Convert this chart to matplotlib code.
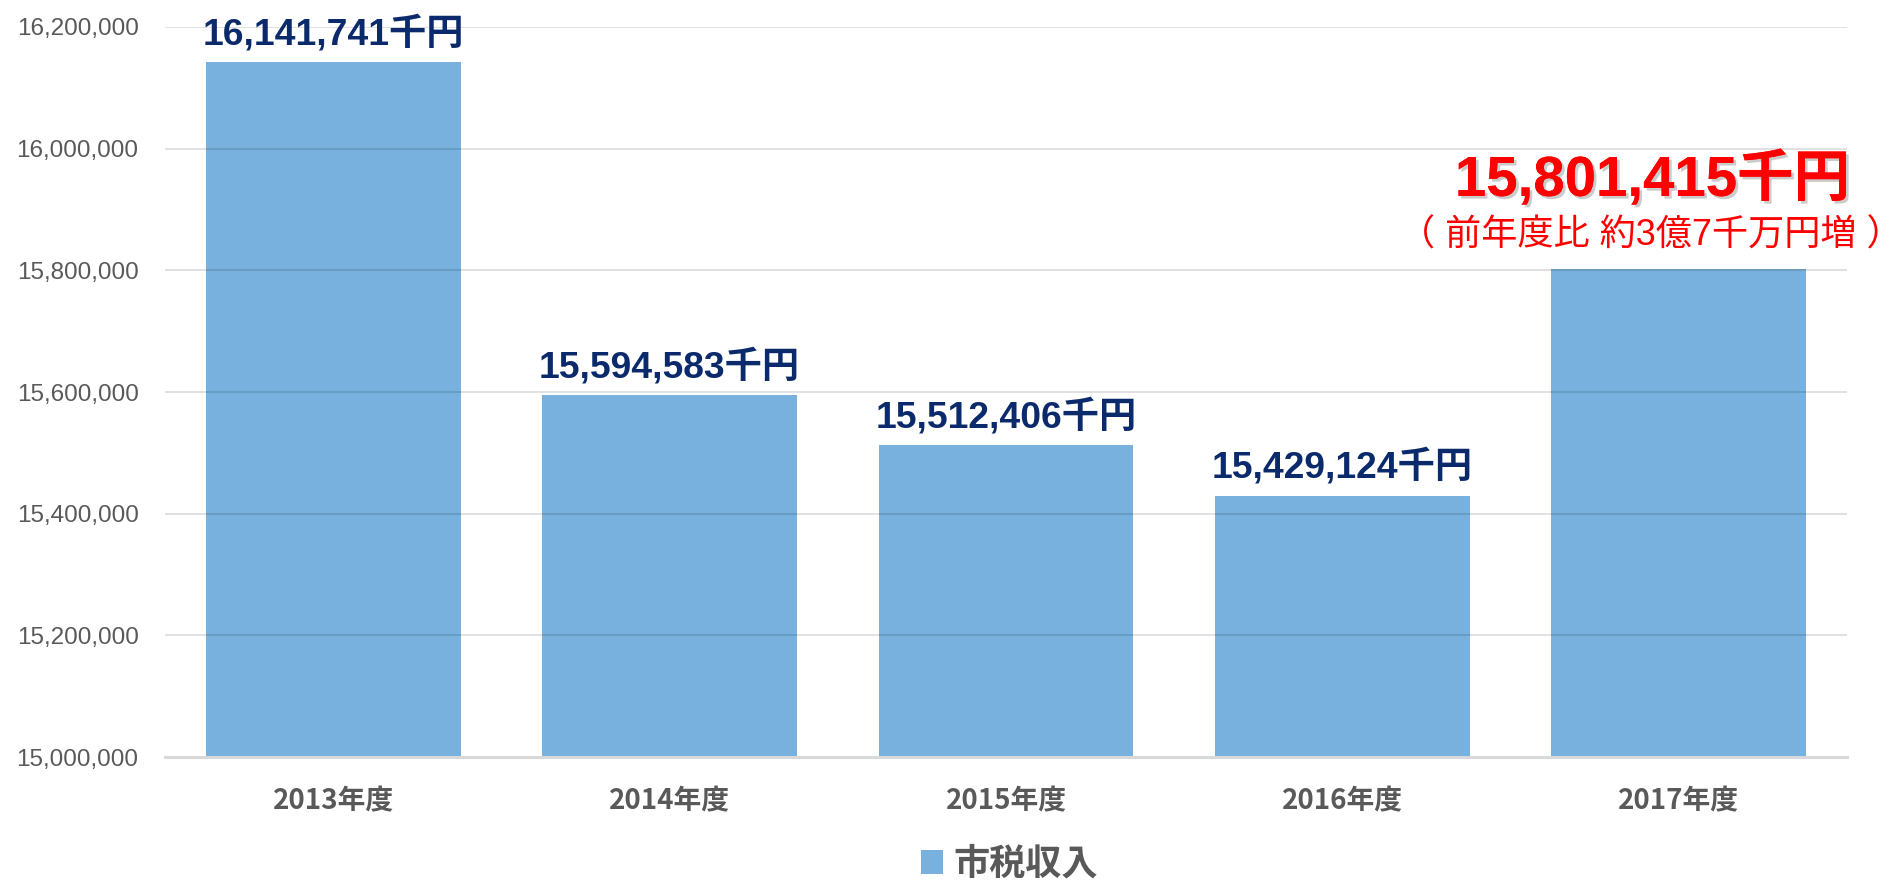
import matplotlib.pyplot as plt
import matplotlib.patheffects as pe
from matplotlib.ticker import FuncFormatter
from matplotlib.patches import Patch

years = ['2013年度', '2014年度', '2015年度', '2016年度', '2017年度']
revenue = [16141741, 15594583, 15512406, 15429124, 15801415]
series_name = '市税収入'
note_2017 = '（ 前年度比 約3億7千万円増 ）'

bar_color = '#78B1DE'
navy = '#0B2A6B'
gray = '#595959'
latin_cjk = ['Liberation Sans', 'Noto Sans CJK JP']

plt.rcParams['font.family'] = latin_cjk

fig = plt.figure(figsize=(19.01, 8.82), dpi=100)
ax = fig.add_axes([0.0868, 0.1417, 0.8848, 0.8277])

x = range(len(years))
ax.bar(x, revenue, width=0.757, color=bar_color, zorder=2)

ax.set_xlim(-0.5, len(years) - 0.5)
ax.set_ylim(15000000, 16200000)
ax.set_yticks(range(15000000, 16200001, 200000))
ax.yaxis.set_major_formatter(FuncFormatter(lambda v, p: f'{int(v):,}'))
ax.grid(axis='y', color='black', alpha=0.13, linewidth=1.3, zorder=3)
ax.set_axisbelow(False)

for s in ['top', 'right', 'left']:
    ax.spines[s].set_visible(False)
ax.spines['bottom'].set_color('#D9D9D9')
ax.spines['bottom'].set_linewidth(2.2)
ax.spines['bottom'].set_zorder(4)

ax.tick_params(axis='y', length=0, pad=19, labelsize=17.5, labelcolor=gray)
ax.tick_params(axis='x', length=0, pad=22)
ax.set_xticks(list(x))
ax.set_xticklabels(years, fontsize=20, fontweight='bold', color=gray,
                   family=['Noto Sans CJK JP'])

# value labels
for i, v in enumerate(revenue[:-1]):
    ax.annotate(f'{v:,}千円', xy=(i, v), xytext=(0, 13), textcoords='offset points',
                ha='center', va='baseline', fontsize=26.8, fontweight='bold',
                color=navy)

last = len(revenue) - 1
ax.annotate(f'{revenue[last]:,}千円', xy=(last, revenue[last]), xytext=(-19, 53),
            textcoords='offset points', ha='center', va='baseline', fontsize=40.6,
            fontweight='bold', color='#FF0000', annotation_clip=False,
            path_effects=[pe.withSimplePatchShadow(offset=(2, -2), shadow_rgbFace='#999999', alpha=0.5),
                          pe.Normal()])
ax.annotate(note_2017, xy=(last, revenue[last]), xytext=(-20, 17),
            textcoords='offset points', ha='center', va='baseline', fontsize=26,
            color='#FF0000', annotation_clip=False)

handle = Patch(facecolor=bar_color, edgecolor='none')
fig.legend([handle], [series_name], loc='center', bbox_to_anchor=(0.531, 0.02),
           frameon=False, handlelength=0.6, handleheight=0.65, handletextpad=0.3,
           prop={'family': ['Noto Sans CJK JP'], 'weight': 'bold', 'size': 26},
           labelcolor=gray)

fig.savefig('out.png', dpi=100)
